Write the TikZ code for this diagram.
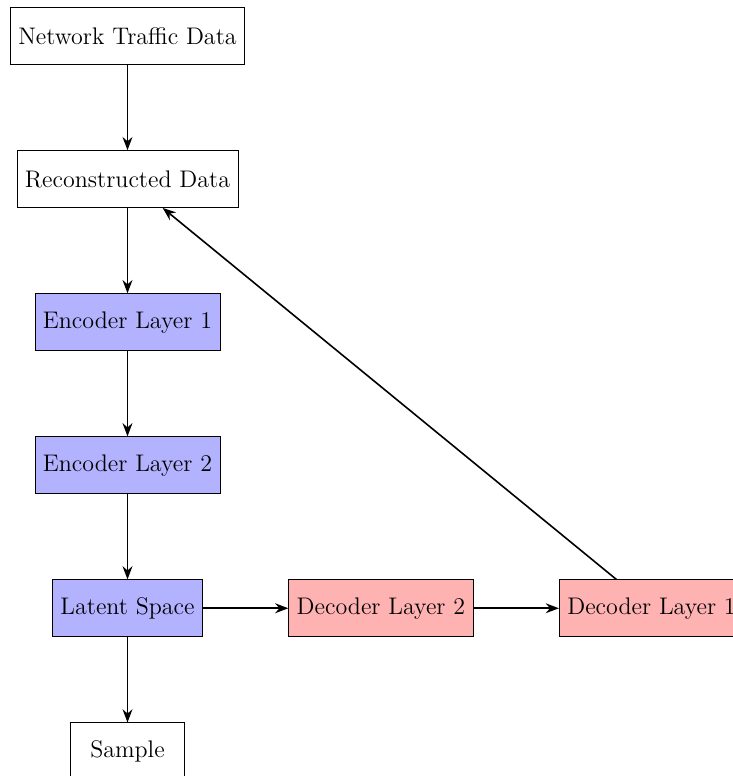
\documentclass[tikz,border=0pt,12pt]{standalone}
\usetikzlibrary{positioning,arrows.meta}
\begin{document}
\begin{tikzpicture}[
    node distance=1.5cm,
    box/.style={rectangle, draw, minimum width=2cm, minimum height=1cm},
    encoder/.style={box, fill=blue!30},
    decoder/.style={box, fill=red!30},
    arrow/.style={thick, -Stealth}
]
    % frame
    \useasboundingbox (-63.75pt,18pt) rectangle (302.75pt,-370pt);
    % input and encoder column
    \node[box] (input) at (0,0) {Network Traffic Data};
    \node[box, below=of input] (recon) {Reconstructed Data};
    \node[encoder, below=of recon] (enc1) {Encoder Layer 1};
    \node[encoder, below=of enc1] (enc2) {Encoder Layer 2};
    \node[encoder, below=of enc2] (latent) {Latent Space};
    \node[box, below=of latent] (sample) {Sample};
    % decoder row
    \node[decoder, right=of latent] (dec2) {Decoder Layer 2};
    \node[decoder, right=of dec2] (dec1) {Decoder Layer 1};
    % arrows
    \draw[arrow] (input) -- (recon);
    \draw[arrow] (recon) -- (enc1);
    \draw[arrow] (enc1) -- (enc2);
    \draw[arrow] (enc2) -- (latent);
    \draw[arrow] (latent) -- (sample);
    \draw[arrow] (latent) -- (dec2);
    \draw[arrow] (dec2) -- (dec1);
    \draw[arrow] (dec1) -- (recon);
\end{tikzpicture}
\end{document}
